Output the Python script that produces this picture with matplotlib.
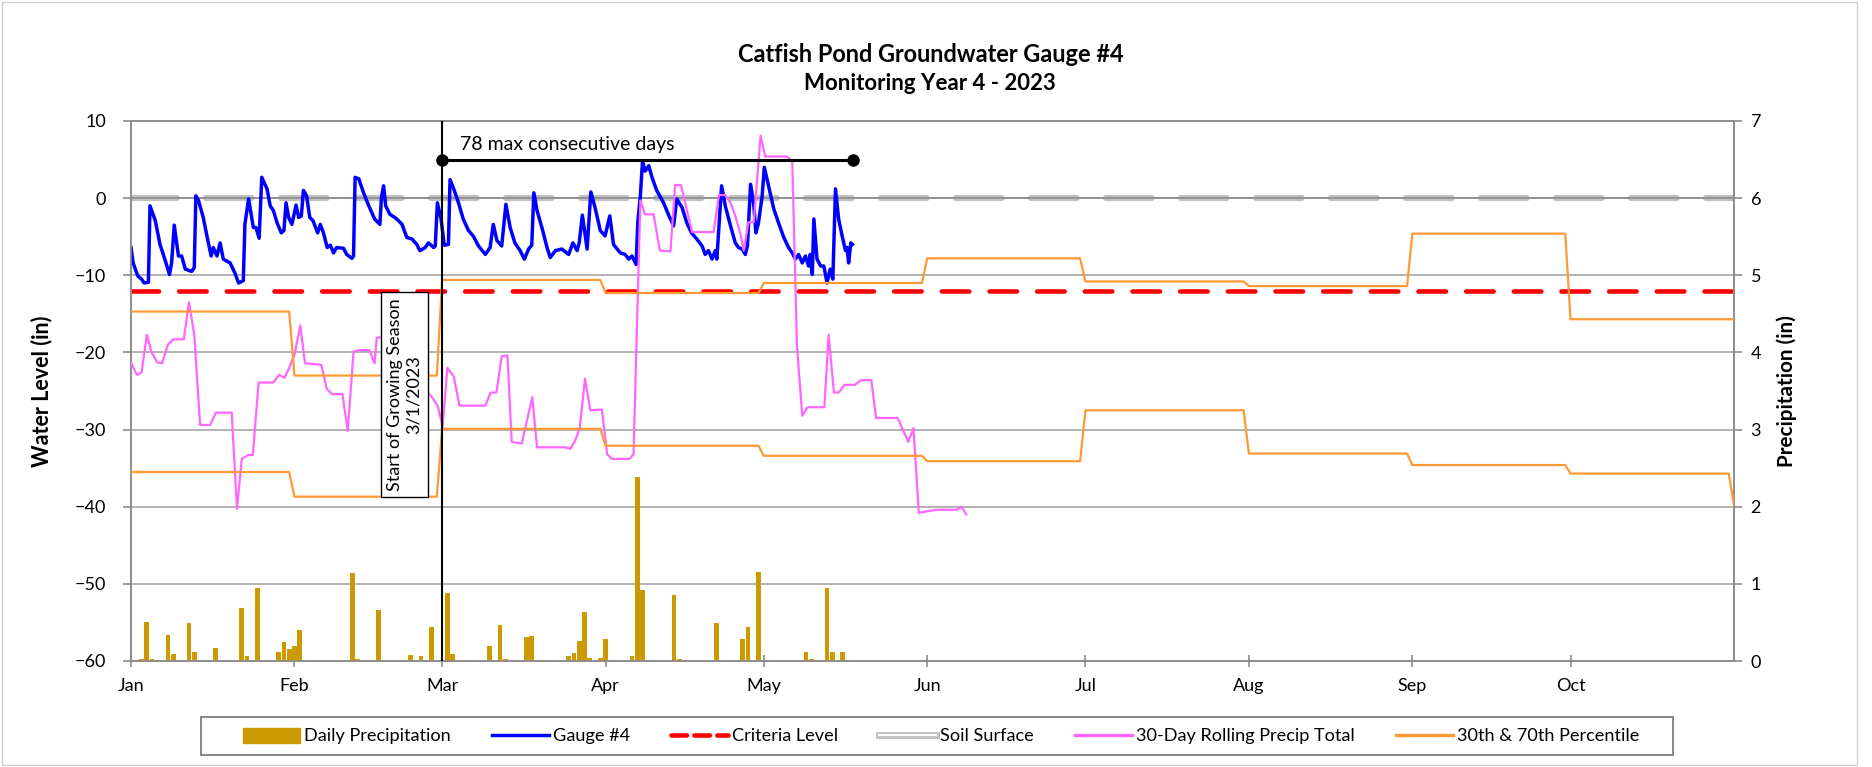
import numpy as np
import matplotlib.pyplot as plt
from matplotlib.lines import Line2D
from matplotlib.patches import Patch, Rectangle
import matplotlib.patheffects as pe

plt.rcParams['font.family'] = ['Lato', 'DejaVu Sans']

# -------------------------------------------------------------
# Data (day = days since Jan 1, 2023)
# -------------------------------------------------------------
month_labels = ["Jan", "Feb", "Mar", "Apr", "May", "Jun", "Jul", "Aug", "Sep", "Oct"]
month_start_day = [0, 31, 59, 90, 120, 151, 181, 212, 243, 273, 304]

# Gauge #4 water level (in)
gauge_day = [
    0, 0.4, 1.3, 2, 2.5, 3.3, 3.6, 4.6, 5.5, 6.5,
    7.3, 7.7, 8.2, 9, 9.6, 10.3, 11.5, 12, 12.3, 12.8,
    13.7, 14.4, 15.2, 15.6, 16.3, 16.9, 17.5, 18.8, 19.7, 20.4,
    21.3, 21.6, 22.3, 23.2, 23.7, 24.3, 24.8, 25.8, 26.4, 27,
    27.7, 28.5, 29, 29.4, 29.9, 30.5, 30.8, 31.3, 31.8, 32.3,
    32.7, 33.3, 33.9, 34.5, 34.9, 35.4, 35.9, 36.5, 37.2, 37.8,
    38.4, 39, 40.3, 40.9, 41.9, 42.2, 42.5, 43.2, 44.1, 45.1,
    46.2, 47.2, 47.5, 47.9, 48.3, 49.1, 49.8, 50.4, 51.4, 52.3,
    53.3, 54.2, 54.8, 55.8, 56.4, 57.4, 57.7, 58.1, 58.8, 59.4,
    60.2, 60.5, 61.2, 62.1, 63, 64, 64.9, 65.9, 67.2, 68.1,
    68.7, 69.4, 70.3, 71.1, 71.9, 72.8, 73.8, 74.6, 75.4, 76,
    76.4, 77, 78, 78.9, 79.5, 80.5, 81.7, 83, 83.8, 84.6,
    85, 85.6, 86.5, 87.2, 88, 89, 89.9, 90.8, 91.5, 92.8,
    93.7, 94.4, 95, 95.8, 96.1, 96.6, 97, 97.5, 98.2, 98.8,
    99.7, 101, 101.9, 102.9, 103.5, 104.5, 105.4, 106.3, 107.3, 108.3,
    108.9, 109.5, 110.2, 110.8, 111.1, 112, 112.7, 113.7, 114.6, 115.2,
    115.9, 116.5, 116.9, 117.5, 118.1, 118.5, 119, 119.7, 120.1, 120.9,
    121.9, 122.8, 123.8, 124.7, 125.4, 126, 126.6, 127.3, 127.9, 128.5,
    128.8, 129.2, 129.5, 130.1, 130.8, 131.4, 132, 132.6, 133.1, 133.6,
    134.2, 134.8, 135.5, 135.8, 136.1, 136.5, 136.8,
]
gauge_level = [
    -6.4, -8.4, -10.1, -10.5, -11.0, -10.9, -1.0, -2.9, -6.0, -8.1,
    -9.9, -8.4, -3.5, -7.5, -7.5, -9.2, -9.5, -9.0, 0.3, -0.3,
    -2.5, -4.9, -7.5, -6.4, -7.5, -5.8, -7.9, -8.4, -9.7, -11.0,
    -10.7, -3.4, -0.1, -3.8, -3.8, -5.2, 2.7, 1.2, -1.0, -1.6,
    -3.2, -4.5, -4.2, -0.6, -2.5, -3.4, -2.5, -0.9, -2.5, -2.3,
    1.0, 0.3, -2.5, -2.9, -3.6, -4.5, -3.4, -4.5, -6.4, -6.1,
    -7.1, -6.4, -6.5, -7.3, -7.8, -7.5, 2.7, 2.5, 0.7, -1.0,
    -2.7, -3.4, 0.1, 1.6, -1.0, -2.1, -2.4, -2.7, -3.4, -5.1,
    -5.3, -6.0, -6.8, -6.4, -5.8, -6.4, -6.2, -0.6, -2.7, -6.1,
    -6.0, 2.4, 1.2, -0.6, -2.7, -4.2, -4.9, -6.2, -7.3, -6.4,
    -3.4, -5.5, -6.2, -0.8, -3.8, -5.8, -6.8, -7.9, -6.6, -6.1,
    0.7, -1.6, -4.0, -6.4, -7.7, -6.8, -6.6, -7.3, -5.8, -6.8,
    -5.8, -2.2, -6.6, 0.8, -1.2, -4.2, -4.9, -2.3, -6.0, -7.1,
    -7.3, -7.9, -7.5, -8.6, -3.2, 0.3, 4.8, 3.5, 4.2, 2.7,
    1.0, -0.6, -2.1, -3.6, -0.1, -1.2, -3.2, -4.5, -5.3, -6.2,
    -7.3, -6.8, -7.9, -6.8, -7.9, 1.6, -1.0, -3.6, -5.8, -6.4,
    -6.6, -7.3, -6.2, 1.8, -0.8, -4.5, -3.2, 0.3, 4.0, 1.6,
    -1.4, -3.2, -5.1, -6.4, -7.1, -7.9, -7.3, -8.4, -7.5, -8.8,
    -7.3, -9.9, -2.7, -7.9, -8.8, -8.8, -11.0, -9.2, -10.5, 1.2,
    -2.7, -4.7, -6.8, -6.4, -8.4, -5.8, -6.0,
]
assert len(gauge_day) == len(gauge_level)

criteria_level = -12
soil_surface = 0

# Daily precipitation (in)
precip_day = [2, 3, 4, 7, 8, 11, 12, 16, 21, 22, 24, 28, 29, 30, 31, 32, 42, 43,
              47, 53, 55, 57, 60, 61, 68, 70, 71, 75, 76, 83, 84, 85, 86, 87, 89,
              90, 95, 96, 97, 103, 104, 111, 116, 117, 119, 128, 129, 132, 133, 135]
precip_in = [0.03, 0.50, 0.03, 0.34, 0.09, 0.49, 0.12, 0.17, 0.69, 0.06, 0.95, 0.12,
             0.25, 0.15, 0.19, 0.40, 1.14, 0.03, 0.66, 0.08, 0.07, 0.44, 0.88, 0.09,
             0.19, 0.47, 0.03, 0.31, 0.32, 0.06, 0.10, 0.26, 0.64, 0.04, 0.04, 0.28,
             0.06, 2.39, 0.92, 0.86, 0.03, 0.49, 0.28, 0.44, 1.15, 0.12, 0.03, 0.95,
             0.12, 0.12]
assert len(precip_day) == len(precip_in)

# 30-day rolling precipitation total (in)
rolling_day = [0, 1.1, 2, 3, 3.9, 5, 5.9, 7, 8, 10, 11, 12, 13.1, 15, 16.1, 19.1,
               20.1, 21, 22.2, 23.1, 24.2, 27, 28.1, 29.1, 30, 31, 32.1, 33, 36.1,
               37.1, 38.1, 40.1, 41.1, 42.2, 43.2, 45.2, 46.2, 46.6, 48, 50, 52, 54,
               56, 57.2, 58.2, 59.1, 60, 61.2, 62.3, 67.2, 68.2, 69.3, 70.3, 71.4,
               72.2, 74.1, 76.1, 77, 82.4, 83.3, 84.2, 85.1, 86.1, 87.1, 89.3, 90.3,
               91.2, 94.5, 95.3, 96.6, 97.5, 99.1, 100.3, 102.3, 103.2, 104.3, 106.4,
               110.5, 111.5, 112.7, 113.7, 114.6, 115.6, 116.2, 117.1, 118.1, 119.4,
               120.3, 124.4, 125.4, 126.3, 127.3, 128.3, 131.5, 132.3, 133.3, 134.2,
               135.3, 137.3, 138.4, 140.4, 141.3, 145.4, 146.5, 147.4, 148.4, 149.4,
               152.6, 156.5, 157.5, 158.4]
rolling_in = [3.87, 3.71, 3.74, 4.23, 4.0, 3.87, 3.86, 4.10, 4.17, 4.17, 4.65, 4.23,
              3.06, 3.06, 3.22, 3.22, 1.97, 2.62, 2.67, 2.67, 3.61, 3.61, 3.71, 3.67,
              3.80, 3.97, 4.35, 3.86, 3.84, 3.53, 3.46, 3.46, 2.98, 4.01, 4.03, 4.03,
              3.86, 4.19, 4.2, 4.0, 3.9, 3.7, 3.5, 3.41, 3.30, 3.04, 3.80, 3.69, 3.31,
              3.31, 3.48, 3.48, 3.95, 3.96, 2.84, 2.82, 3.42, 2.77, 2.77, 2.75, 2.85,
              3.02, 3.66, 3.25, 3.26, 2.68, 2.62, 2.62, 2.68, 5.97, 5.79, 5.79, 5.32,
              5.31, 6.17, 6.17, 5.56, 5.56, 6.04, 6.04, 5.94, 5.77, 5.53, 5.32, 5.69,
              5.69, 6.81, 6.54, 6.54, 6.48, 4.08, 3.18, 3.29, 3.29, 4.23, 3.48, 3.48,
              3.58, 3.58, 3.64, 3.64, 3.15, 3.15, 2.98, 2.84, 3.02, 1.92, 1.96, 1.96,
              2.0, 1.90]
assert len(rolling_day) == len(rolling_in)

# Monthly 30th / 70th percentile of 30-day precip (in), Jan..Oct + Nov 1
pct70_month = [4.53, 3.70, 4.94, 4.77, 4.90, 5.22, 4.92, 4.86, 5.54, 4.43, 4.43]
pct30_month = [2.45, 2.13, 3.01, 2.79, 2.66, 2.59, 3.25, 2.69, 2.54, 2.43, 2.02]

season_start_day = 59        # 3/1/2023
consecutive_days = 78

# -------------------------------------------------------------
# Figure
# -------------------------------------------------------------
W, H = 1872, 767
fig = plt.figure(figsize=(W / 100, H / 100), dpi=100)
ax = fig.add_axes([131 / W, 1 - 661 / H, (1734 - 131) / W, (661 - 121) / H])
ax2 = ax.twinx()
renderer = fig.canvas.get_renderer()


def fit_text(t, target_px, vertical=False):
    # scale the font so the rendered text spans target_px pixels
    bb = t.get_window_extent(renderer)
    size = bb.height if vertical else bb.width
    t.set_fontsize(t.get_fontsize() * target_px / size)


GRID = "#A6A6A6"
SPINE = "#8C8C8C"

ax.set_xlim(month_start_day[0], month_start_day[-1])
ax.set_ylim(-60, 10)
ax.set_yticks(np.arange(-60, 11, 10))
ax2.set_ylim(0, 7)
ax2.set_yticks(np.arange(0, 8, 1))

for y in np.arange(-60, 11, 10):
    ax.axhline(y, color=GRID, lw=1.2, zorder=0.5)

ax.set_xticks(month_start_day[:-1])
ax.set_xticklabels(month_labels)

for a in (ax, ax2):
    for s in a.spines.values():
        s.set_color(SPINE)
        s.set_linewidth(1.2)
ax.tick_params(axis="x", direction="inout", length=9, width=1.2, color=SPINE,
               labelsize=13, pad=8)
ax.tick_params(axis="y", direction="out", length=6, width=1.2, color=SPINE,
               labelsize=13, pad=12)
ax2.tick_params(axis="y", direction="out", length=6, width=1.2, color=SPINE,
                labelsize=13, pad=6)

# soil surface / criteria (left axis)
ax.plot([month_start_day[0], month_start_day[-1]], [soil_surface] * 2, color="#C0C0C0",
        lw=4.5, dashes=(7.3, 4.7), dash_capstyle="round", zorder=1)
ax.axhline(soil_surface, color=SPINE, lw=1.2, zorder=1.2)
ax.plot([month_start_day[0], month_start_day[-1]], [criteria_level] * 2, color="#FF0000",
        lw=3.3, dashes=(6.0, 4.4), dash_capstyle="round", zorder=1.5)

# gauge
ax.plot(gauge_day, gauge_level, color="#0000FF", lw=2.5, zorder=3)

# precipitation (right axis)
ax2.bar(precip_day, precip_in, width=0.9, color="#CC9900", zorder=2)
ax2.plot(rolling_day, rolling_in, color="#FF66FF", lw=1.6, zorder=3)

pct_days = np.arange(month_start_day[0], month_start_day[-1] + 1)
month_len = np.diff(month_start_day + [month_start_day[-1] + 1])
ax2.plot(pct_days, np.repeat(pct70_month, month_len), color="#FF9933", lw=1.6, zorder=3.5)
ax2.plot(pct_days, np.repeat(pct30_month, month_len), color="#FF9933", lw=1.6, zorder=3.5)

# growing season marker
ax2.axvline(season_start_day, color="black", lw=1.5, zorder=4)
season_txt = ax2.text(51.8, (-25.5 + 60) / 10, "Start of Growing Season\n3/1/2023",
                      rotation=90, ha="center", va="center", multialignment="center",
                      fontsize=13, zorder=6,
                      bbox=dict(boxstyle="square,pad=0.35", facecolor="white",
                                edgecolor="black", lw=1))

# max consecutive days bar
ax2.plot([season_start_day, season_start_day + consecutive_days], [6.5, 6.5], color="black",
         lw=2.2, marker="o", markersize=8, zorder=5)
ax2.text(season_start_day + 3.3, 6.69, f"{consecutive_days} max consecutive days",
         ha="left", va="center", fontsize=14, zorder=5)

# titles / axis labels
t1 = fig.text(0.497, 1 - 54 / H, "Catfish Pond Groundwater Gauge #4", ha="center",
              va="center", fontsize=15, fontweight="bold")
t2 = fig.text(0.4965, 1 - 84 / H, "Monitoring Year 4 - 2023", ha="center", va="center",
              fontsize=13.5, fontweight="bold")
yl = fig.text(42 / W, 1 - 391 / H, "Water Level (in)", rotation=90, ha="center",
              va="center", fontsize=13.5, fontweight="bold")
yr = fig.text(1787 / W, 1 - 391 / H, "Precipitation (in)", rotation=90, ha="center",
              va="center", fontsize=13.5, fontweight="bold")
fit_text(t1, 388)
fit_text(t2, 252)
fit_text(yl, 152, vertical=True)
fit_text(yr, 151, vertical=True)

# legend (frame drawn separately so it can be wider than its content)
probe = fig.text(0, 0, "Daily Precipitation", fontsize=13)
fit_text(probe, 147)
leg_fs = probe.get_fontsize()
probe.remove()
em = leg_fs * 100 / 72

soil_handle = Line2D([], [], color="white", lw=1.6,
                     path_effects=[pe.Stroke(linewidth=5, foreground="#C0C0C0"), pe.Normal()])
handles = [
    Patch(facecolor="#CC9900", edgecolor="#CC9900"),
    Line2D([], [], color="#0000FF", lw=2.5),
    Line2D([], [], color="#FF0000", lw=3.3, dashes=(3.4, 1.6), dash_capstyle="round"),
    soil_handle,
    Line2D([], [], color="#FF66FF", lw=2.4),
    Line2D([], [], color="#FF9933", lw=2.4),
]
labels = ["Daily Precipitation", "Gauge #4", "Criteria Level", "Soil Surface",
          "30-Day Rolling Precip Total", "30th & 70th Percentile"]
fig.legend(handles, labels, loc="center", ncol=6, fontsize=leg_fs,
           bbox_to_anchor=(941 / W, 1 - 736 / H), frameon=False,
           handlelength=57 / em, handleheight=0.9, handletextpad=4 / em,
           columnspacing=41 / em, borderpad=0, borderaxespad=0)
fig.patches.append(Rectangle((201 / W, 1 - 755 / H), (1673 - 201) / W, 38 / H,
                             transform=fig.transFigure, facecolor="white",
                             edgecolor="#7F7F7F", lw=1.3, zorder=-1))

# chart area border
fig.patches.append(Rectangle((2 / W, 2 / H), 1855 / W, 1 - 4 / H, transform=fig.transFigure,
                             fill=False, edgecolor="#D0D0D0", lw=1))

fig.savefig("out.png", dpi=100)
